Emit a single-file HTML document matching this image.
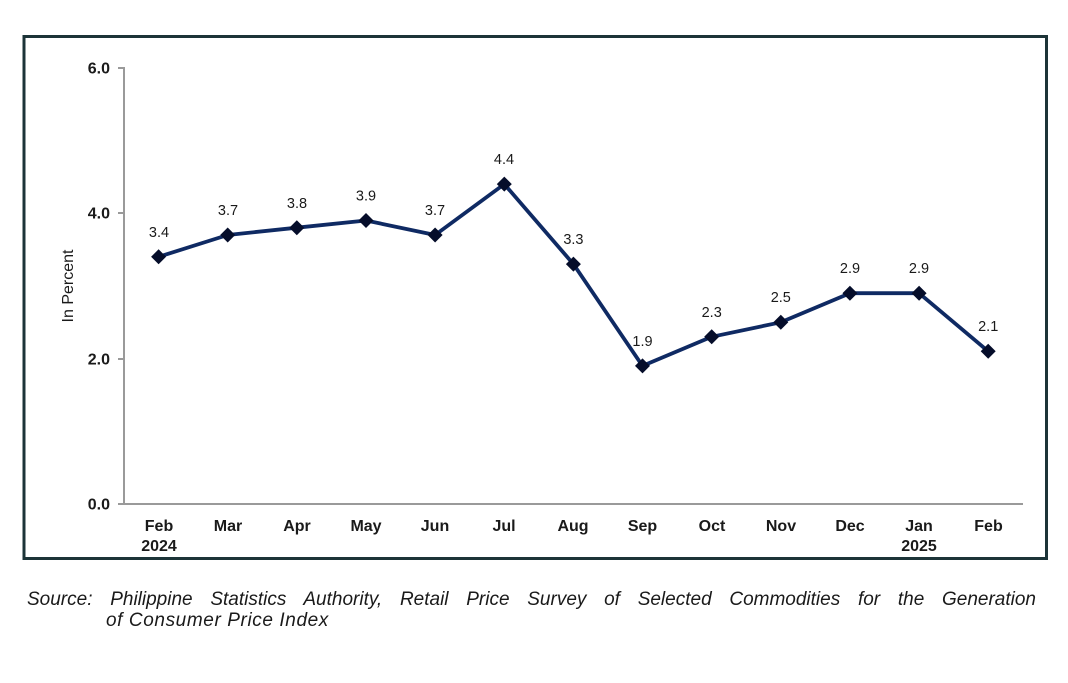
<!DOCTYPE html>
<html>
<head>
<meta charset="utf-8">
<style>
  html,body{margin:0;padding:0;background:#fff;}
  body{width:1068px;height:683px;position:relative;overflow:hidden;font-family:"Liberation Sans",Arial,sans-serif;}
  svg{position:absolute;left:0;top:0;}
  .src{position:absolute;font-style:italic;font-size:19px;color:#1a1a1a;white-space:nowrap;}
</style>
</head>
<body>
<svg width="1068" height="683" viewBox="0 0 1068 683" xmlns="http://www.w3.org/2000/svg">
  <rect x="24" y="36.5" width="1022.5" height="522" fill="#fff" stroke="#1c3438" stroke-width="3"/>
  <!-- axes -->
  <g stroke="#9a9a9a" stroke-width="2" fill="none">
    <line x1="124" y1="67" x2="124" y2="505"/>
    <line x1="118" y1="504" x2="1023" y2="504"/>
    <line x1="118" y1="68" x2="124" y2="68"/>
    <line x1="118" y1="213" x2="124" y2="213"/>
    <line x1="118" y1="359" x2="124" y2="359"/>
  </g>
  <g font-family="Liberation Sans, Arial, sans-serif" font-weight="bold" font-size="16" fill="#1a1a1a" text-anchor="end">
    <text x="110" y="73.5">6.0</text>
    <text x="110" y="218.5">4.0</text>
    <text x="110" y="364.5">2.0</text>
    <text x="110" y="509.5">0.0</text>
  </g>
  <text transform="translate(73,286) rotate(-90)" font-family="Liberation Sans, Arial, sans-serif" font-size="16" fill="#1a1a1a" text-anchor="middle">In Percent</text>
  <!-- x labels -->
  <g font-family="Liberation Sans, Arial, sans-serif" font-weight="bold" font-size="16" fill="#1a1a1a" text-anchor="middle">
    <text x="159" y="531">Feb</text>
    <text x="159" y="551">2024</text>
    <text x="228" y="531">Mar</text>
    <text x="297" y="531">Apr</text>
    <text x="366" y="531">May</text>
    <text x="435" y="531">Jun</text>
    <text x="504" y="531">Jul</text>
    <text x="573" y="531">Aug</text>
    <text x="642.5" y="531">Sep</text>
    <text x="712" y="531">Oct</text>
    <text x="781" y="531">Nov</text>
    <text x="850" y="531">Dec</text>
    <text x="919" y="531">Jan</text>
    <text x="919" y="551">2025</text>
    <text x="988.5" y="531">Feb</text>
  </g>
  <!-- line -->
  <polyline fill="none" stroke="#0f2a63" stroke-width="3.8" stroke-linejoin="round"
    points="158.6,256.8 227.7,235.0 296.8,227.7 366.0,220.5 435.1,235.0 504.3,184.1 573.4,264.1 642.5,365.9 711.7,336.8 780.8,322.3 849.9,293.2 919.1,293.2 988.2,351.3"/>
  <!-- markers -->
  <g fill="#050d2a">
    <polygon points="158.6,249.3 166.1,256.8 158.6,264.3 151.1,256.8"/>
    <polygon points="227.7,227.5 235.2,235.0 227.7,242.5 220.2,235.0"/>
    <polygon points="296.8,220.2 304.3,227.7 296.8,235.2 289.3,227.7"/>
    <polygon points="366.0,213.0 373.5,220.5 366.0,228.0 358.5,220.5"/>
    <polygon points="435.1,227.5 442.6,235.0 435.1,242.5 427.6,235.0"/>
    <polygon points="504.3,176.6 511.8,184.1 504.3,191.6 496.8,184.1"/>
    <polygon points="573.4,256.6 580.9,264.1 573.4,271.6 565.9,264.1"/>
    <polygon points="642.5,358.4 650.0,365.9 642.5,373.4 635.0,365.9"/>
    <polygon points="711.7,329.3 719.2,336.8 711.7,344.3 704.2,336.8"/>
    <polygon points="780.8,314.8 788.3,322.3 780.8,329.8 773.3,322.3"/>
    <polygon points="849.9,285.7 857.4,293.2 849.9,300.7 842.4,293.2"/>
    <polygon points="919.1,285.7 926.6,293.2 919.1,300.7 911.6,293.2"/>
    <polygon points="988.2,343.8 995.7,351.3 988.2,358.8 980.7,351.3"/>
  </g>
  <!-- data labels -->
  <g font-family="Liberation Sans, Arial, sans-serif" font-size="14.5" fill="#1a1a1a" text-anchor="middle">
    <text x="159" y="237">3.4</text>
    <text x="228" y="215">3.7</text>
    <text x="297" y="208">3.8</text>
    <text x="366" y="200.5">3.9</text>
    <text x="435" y="215">3.7</text>
    <text x="504" y="164">4.4</text>
    <text x="573.4" y="244">3.3</text>
    <text x="642.5" y="346">1.9</text>
    <text x="711.7" y="317">2.3</text>
    <text x="780.8" y="302">2.5</text>
    <text x="850" y="273">2.9</text>
    <text x="919" y="273">2.9</text>
    <text x="988.2" y="331">2.1</text>
  </g>
</svg>
<div class="src" style="left:27px;top:589px;width:1009px;text-align:justify;text-align-last:justify;white-space:normal;line-height:22px;height:22px;">Source: Philippine Statistics Authority, Retail Price Survey of Selected Commodities for the Generation</div>
<div class="src" style="left:106px;top:610px;line-height:22px;letter-spacing:0.6px;">of Consumer Price Index</div>
</body>
</html>
